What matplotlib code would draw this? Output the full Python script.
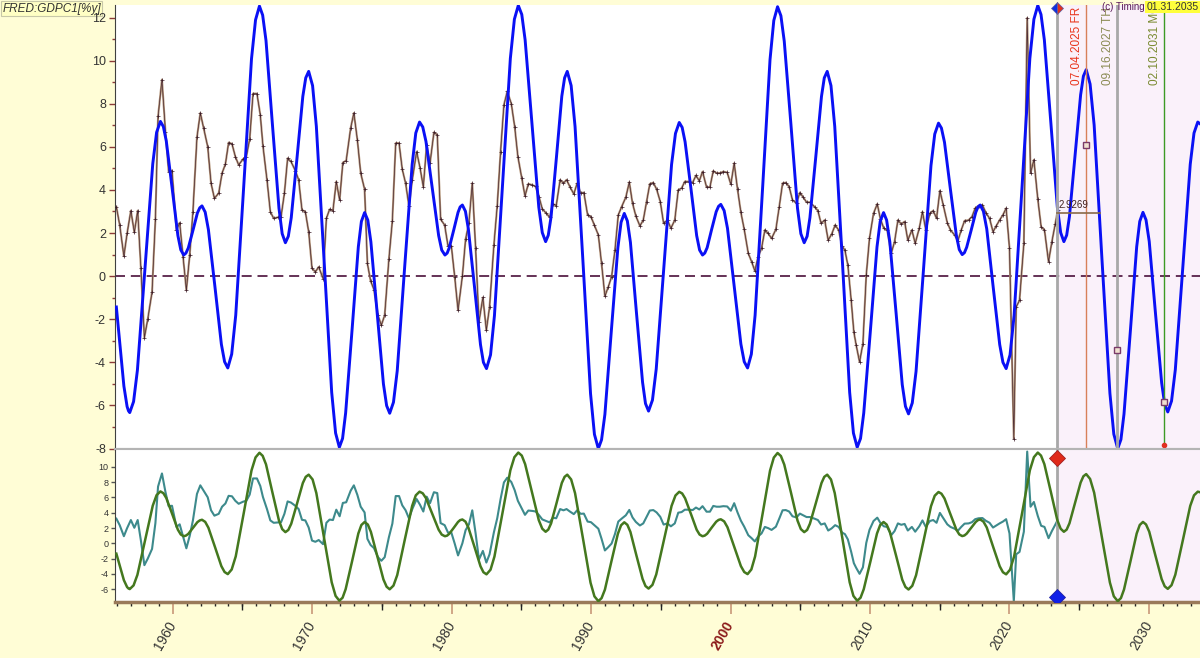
import matplotlib
matplotlib.use('Agg')
import matplotlib.pyplot as plt
from matplotlib.ticker import MultipleLocator, FixedLocator

plt.rcParams['font.family'] = ['Liberation Sans', 'DejaVu Sans']
plt.rcParams['axes.unicode_minus'] = False

# cycle projection (blue / green)
cyc_years = [1955.96, 1956.25, 1956.5, 1956.73, 1956.83,
             1956.92, 1957.195, 1957.47, 1958.02, 1958.57, 1958.845,
             1959.12, 1959.33, 1959.54, 1959.96, 1960.37, 1960.58,
             1960.79, 1960.95, 1961.12, 1961.45, 1961.77, 1961.94,
             1962.10, 1962.33, 1962.56, 1963.03, 1963.49, 1963.72,
             1963.95, 1964.23, 1964.52, 1965.09, 1965.65, 1965.94,
             1966.22, 1966.45, 1966.69, 1967.15, 1967.62, 1967.85,
             1968.08, 1968.29, 1968.50, 1968.92, 1969.33, 1969.54,
             1969.75, 1970.03, 1970.30, 1970.85, 1971.40, 1971.68,
             1971.95, 1972.18, 1972.40, 1972.86, 1973.31, 1973.53,
             1973.76, 1973.99, 1974.21, 1974.66, 1975.11, 1975.34,
             1975.56, 1975.83, 1976.10, 1976.63, 1977.17, 1977.43,
             1977.70, 1977.93, 1978.16, 1978.61, 1979.07, 1979.29,
             1979.52, 1979.68, 1979.83, 1980.15, 1980.46, 1980.61,
             1980.77, 1980.99, 1981.20, 1981.64, 1982.07, 1982.28,
             1982.50, 1982.79, 1983.07, 1983.64, 1984.21, 1984.50,
             1984.78, 1985.03, 1985.27, 1985.76, 1986.25, 1986.50,
             1986.74, 1986.93, 1987.13, 1987.52, 1987.90, 1988.10,
             1988.29, 1988.57, 1988.85, 1989.41, 1989.96, 1990.24,
             1990.52, 1990.75, 1990.99, 1991.45, 1991.92, 1992.15,
             1992.38, 1992.60, 1992.82, 1993.25, 1993.69, 1993.90,
             1994.12, 1994.40, 1994.67, 1995.22, 1995.77, 1996.05,
             1996.32, 1996.53, 1996.74, 1997.16, 1997.57, 1997.78,
             1997.99, 1998.15, 1998.32, 1998.64, 1998.97, 1999.14,
             1999.30, 1999.54, 1999.78, 2000.26, 2000.74, 2000.98,
             2001.22, 2001.49, 2001.76, 2002.30, 2002.83, 2003.10,
             2003.37, 2003.61, 2003.85, 2004.33, 2004.80, 2005.04,
             2005.28, 2005.49, 2005.69, 2006.11, 2006.52, 2006.72,
             2006.93, 2007.20, 2007.47, 2008.01, 2008.54, 2008.81,
             2009.08, 2009.32, 2009.55, 2010.03, 2010.50, 2010.73,
             2010.97, 2011.19, 2011.42, 2011.87, 2012.31, 2012.54,
             2012.76, 2013.03, 2013.30, 2013.84, 2014.37, 2014.64,
             2014.91, 2015.12, 2015.34, 2015.76, 2016.19, 2016.40,
             2016.61, 2016.77, 2016.93, 2017.26, 2017.58, 2017.74,
             2017.90, 2018.13, 2018.37, 2018.83, 2019.30, 2019.53,
             2019.76, 2020.04, 2020.33, 2020.90, 2021.46, 2021.75,
             2022.03, 2022.26, 2022.50, 2022.97, 2023.43, 2023.67,
             2023.90, 2024.10, 2024.30, 2024.70, 2025.10, 2025.30,
             2025.50, 2025.78, 2026.07, 2026.63, 2027.20, 2027.48,
             2027.76, 2027.99, 2028.21, 2028.67, 2029.12, 2029.34,
             2029.57, 2029.79, 2030.02, 2030.46, 2030.91, 2031.13,
             2031.35, 2031.62, 2031.89, 2032.43, 2032.96, 2033.23,
             2033.50, 2033.80]
cyc_vals = [-1.43, -3.4, -5.1, -6.05, -6.25,
            -6.33, -5.82, -4.36, 0.43, 5.21, 6.67,
            7.18, 6.94, 6.27, 4.08, 1.89, 1.22,
            0.98, 1.07, 1.31, 2.12, 2.93, 3.17,
            3.26, 2.97, 2.16, -0.5, -3.16, -3.97,
            -4.26, -3.62, -1.81, 4.14, 10.08, 11.89,
            12.53, 12.11, 10.93, 7.04, 3.15, 1.97,
            1.55, 1.85, 2.71, 5.53, 8.34, 9.2,
            9.5, 8.84, 6.95, 0.78, -5.39, -7.28,
            -7.94, -7.53, -6.35, -2.50, 1.36, 2.54,
            2.95, 2.60, 1.59, -1.71, -5.0, -6.01,
            -6.36, -5.85, -4.39, 0.40, 5.18, 6.64,
            7.15, 6.92, 6.25, 4.07, 1.88, 1.21,
            0.98, 1.07, 1.32, 2.14, 2.96, 3.21,
            3.30, 3.01, 2.19, -0.50, -3.18, -4.0,
            -4.29, -3.65, -1.83, 4.14, 10.10, 11.92,
            12.56, 12.14, 10.96, 7.08, 3.20, 2.02,
            1.60, 1.90, 2.75, 5.55, 8.35, 9.2,
            9.5, 8.84, 6.94, 0.75, -5.45, -7.34,
            -8.0, -7.59, -6.41, -2.55, 1.32, 2.50,
            2.91, 2.56, 1.57, -1.68, -4.92, -5.91,
            -6.26, -5.75, -4.31, 0.43, 5.18, 6.62,
            7.13, 6.90, 6.23, 4.06, 1.88, 1.21,
            0.98, 1.07, 1.32, 2.16, 2.99, 3.24,
            3.33, 3.04, 2.22, -0.47, -3.15, -3.97,
            -4.26, -3.62, -1.81, 4.12, 10.05, 11.86,
            12.5, 12.08, 10.90, 7.03, 3.15, 1.97,
            1.55, 1.85, 2.71, 5.53, 8.34, 9.2,
            9.5, 8.84, 6.95, 0.78, -5.39, -7.28,
            -7.94, -7.53, -6.35, -2.50, 1.36, 2.54,
            2.95, 2.60, 1.59, -1.72, -5.03, -6.04,
            -6.39, -5.88, -4.42, 0.36, 5.13, 6.59,
            7.1, 6.87, 6.21, 4.05, 1.89, 1.23,
            1.0, 1.09, 1.34, 2.15, 2.96, 3.21,
            3.3, 3.01, 2.19, -0.50, -3.18, -4.0,
            -4.29, -3.65, -1.83, 4.14, 10.10, 11.92,
            12.56, 12.14, 10.96, 7.08, 3.20, 2.02,
            1.6, 1.90, 2.77, 5.59, 8.41, 9.28,
            9.58, 8.91, 7.01, 0.79, -5.43, -7.33,
            -8.0, -7.58, -6.40, -2.52, 1.36, 2.54,
            2.96, 2.61, 1.61, -1.67, -4.95, -5.95,
            -6.3, -5.79, -4.34, 0.43, 5.19, 6.64,
            7.15, 7.0]

# FRED GDPC1, % change y/y (brown / teal)
gdp_years = [1955.96, 1956.2, 1956.5, 1956.73, 1957.0, 1957.25, 1957.49, 1957.72, 1957.97,
             1958.21, 1958.52, 1958.76, 1958.95, 1959.23, 1959.48, 1959.71, 1959.95,
             1960.27, 1960.5, 1960.74, 1960.98, 1961.22, 1961.45, 1961.74, 1961.98,
             1962.22, 1962.51, 1962.75, 1962.99, 1963.3, 1963.54, 1963.78, 1964.01,
             1964.25, 1964.49, 1964.73, 1965.04, 1965.28, 1965.52, 1965.76, 1966.04,
             1966.28, 1966.47, 1966.76, 1967.0, 1967.24, 1967.53, 1967.77, 1968.01,
             1968.24, 1968.48, 1968.79, 1969.03, 1969.27, 1969.51, 1969.75, 1969.99,
             1970.23, 1970.47, 1970.78, 1971.02, 1971.25, 1971.49, 1971.73, 1971.97,
             1972.2, 1972.44, 1972.76, 1972.99, 1973.24, 1973.48, 1973.76, 1973.96,
             1974.19, 1974.43, 1974.72, 1974.96, 1975.2, 1975.5, 1975.75, 1975.99,
             1976.23, 1976.46, 1976.7, 1976.94, 1977.18, 1977.49, 1977.73, 1977.97,
             1978.21, 1978.45, 1978.73, 1978.97, 1979.21, 1979.5, 1979.74, 1979.98,
             1980.22, 1980.46, 1980.77, 1981.0, 1981.24, 1981.48, 1981.72, 1981.96,
             1982.24, 1982.49, 1982.72, 1983.03, 1983.27, 1983.51, 1983.75, 1983.99,
             1984.28, 1984.52, 1984.75, 1985.02, 1985.26, 1985.5, 1985.78, 1986.02,
             1986.26, 1986.5, 1986.74, 1987.03, 1987.26, 1987.5, 1987.78, 1988.02,
             1988.24, 1988.48, 1988.76, 1989.0, 1989.25, 1989.48, 1989.75, 1989.99,
             1990.23, 1990.52, 1990.75, 1990.99, 1991.23, 1991.47, 1991.71, 1991.95,
             1992.19, 1992.49, 1992.74, 1992.97, 1993.21, 1993.5, 1993.74, 1993.98,
             1994.21, 1994.46, 1994.7, 1994.96, 1995.2, 1995.48, 1995.72, 1996.0,
             1996.25, 1996.49, 1996.72, 1997.04, 1997.28, 1997.52, 1997.76, 1997.99,
             1998.28, 1998.52, 1998.76, 1999.0, 1999.23, 1999.48, 1999.76, 2000.02,
             2000.26, 2000.5, 2000.74, 2000.98, 2001.27, 2001.51, 2001.74, 2001.98,
             2002.22, 2002.46, 2002.7, 2002.94, 2003.25, 2003.49, 2003.73, 2003.96,
             2004.2, 2004.44, 2004.73, 2004.97, 2005.21, 2005.45, 2005.69, 2006.02,
             2006.26, 2006.49, 2006.75, 2007.0, 2007.25, 2007.5, 2007.75, 2008.0,
             2008.2, 2008.41, 2008.65, 2008.84, 2009.01, 2009.25, 2009.49, 2009.73,
             2009.96, 2010.25, 2010.52, 2010.75, 2010.99, 2011.23, 2011.52, 2011.76,
             2012.0, 2012.24, 2012.48, 2012.71, 2013.0, 2013.24, 2013.53, 2013.76,
             2014.0, 2014.29, 2014.53, 2014.77, 2015.01, 2015.25, 2015.54, 2015.77,
             2016.06, 2016.3, 2016.54, 2016.78, 2017.07, 2017.31, 2017.54, 2017.78,
             2018.06, 2018.3, 2018.57, 2018.82, 2019.05, 2019.29, 2019.53, 2019.76,
             2020.0, 2020.31, 2020.48, 2020.72, 2021.03, 2021.27, 2021.51, 2021.75,
             2022.03, 2022.27, 2022.51, 2022.8, 2023.04, 2023.28, 2023.46]
gdp_vals = [3.22, 2.37, 0.93, 1.98, 3.04, 2.03, 3.04, 0.36, -2.85,
            -2.0, -0.73, 2.64, 7.41, 9.12, 6.71, 4.85, 4.90,
            2.14, 2.48, 0.9, -0.65, 0.98, 2.99, 6.45, 7.57,
            6.87, 6.01, 4.31, 3.61, 3.85, 4.78, 5.2, 6.2,
            6.14, 5.55, 5.16, 5.43, 5.55, 6.36, 8.47, 8.47,
            7.49, 6.05, 4.47, 2.99, 2.68, 2.73, 2.76, 3.85,
            5.47, 5.32, 4.9, 4.47, 3.07, 2.99, 2.06, 0.36,
            0.2, 0.43, -0.11, 2.68, 3.1, 3.04, 4.39, 3.53,
            5.27, 5.36, 6.87, 7.57, 6.33, 4.78, 4.03, 0.59,
            -0.22, -0.62, -1.81, -2.28, -1.81, 0.78, 2.57, 6.17,
            6.17, 4.96, 4.31, 3.26, 4.47, 5.78, 5.04, 4.15,
            6.09, 5.24, 6.67, 6.56, 2.64, 2.37, 1.4, 1.4,
            -0.03, -1.58, 0.0, 1.71, 2.48, 4.31, 1.29, -2.12,
            -0.99, -2.51, -1.43, 1.44, 3.27, 5.78, 7.95, 8.57,
            8.0, 6.94, 5.55, 4.57, 3.72, 4.28, 4.23, 4.16,
            3.69, 3.12, 2.95, 2.73, 3.35, 3.27, 4.47, 4.31,
            4.47, 4.15, 3.81, 4.31, 3.85, 3.88, 2.84, 2.76,
            2.37, 1.91, 0.59, -0.93, -0.5, -0.03, 1.21, 2.84,
            3.22, 3.66, 4.36, 3.38, 2.79, 2.33, 2.6, 3.46,
            4.28, 4.34, 4.03, 3.46, 2.45, 2.6, 2.22, 2.6,
            4.0, 4.08, 4.39, 4.39, 4.34, 4.67, 4.42, 4.85,
            4.13, 4.13, 4.88, 4.78, 4.78, 4.85, 4.81, 4.26,
            5.24, 4.03, 2.96, 2.17, 1.06, 0.67, 0.25, 0.9,
            1.29, 2.14, 1.98, 1.75, 2.17, 3.22, 4.31, 4.34,
            4.15, 3.53, 3.38, 3.88, 3.66, 3.43, 3.43, 3.22,
            3.04, 2.45, 2.6, 1.67, 1.95, 2.37, 2.14, 1.4,
            1.2, 0.51, -1.12, -2.59, -3.21, -3.98, -3.13, 0.05,
            1.75, 2.91, 3.35, 2.64, 2.22, 2.14, 1.06, 1.6,
            2.6, 2.42, 2.53, 1.67, 2.14, 1.52, 2.22, 2.99,
            2.14, 2.91, 3.04, 2.68, 3.97, 3.3, 2.48, 2.14,
            1.91, 1.64, 2.14, 2.57, 2.6, 2.76, 3.15, 3.27,
            3.3, 2.95, 2.68, 2.06, 2.33, 2.6, 2.84, 3.15,
            1.29, -7.55, -1.43, -1.12, 1.52, 11.98, 4.78, 5.4,
            3.57, 2.29, 2.14, 0.67, 1.6, 2.42, 3.07]

now_date = 2023.44
now_value = 2.9269
event_dates = [2025.51, 2027.71, 2031.11]
event_labels = ['07.04.2025 FR', '09.16.2027 TH', '02.10.2031 MO']
event_values = [6.1, -3.43, -5.83]

decades = [1960, 1970, 1980, 1990, 2000, 2010, 2020, 2030]
half_decades = [1955, 1965, 1975, 1985, 1995, 2005, 2015, 2025]

BG = '#fffdd6'
PINK = '#faf1fa'

fig = plt.figure(figsize=(12, 6.58), dpi=100, facecolor=BG)
ax = fig.add_axes([0.0958, 0.3176, 0.9042, 0.6748])
ax2 = fig.add_axes([0.0958, 0.0851, 0.9042, 0.2325], sharex=ax)

# ---- top panel
ax.axvspan(now_date, 2040, color=PINK, zorder=0, lw=0)
ax.axhline(0, color='#4a0f3a', lw=1.2, dashes=(6, 3.5), zorder=1)
ax.plot(gdp_years, gdp_vals, color='#b39478', lw=1.5, zorder=2)
ax.plot(gdp_years, gdp_vals, color='#4a2a34', lw=0.5, marker='+', ms=3,
        mew=0.5, mec='#3a1a26', zorder=3)
ax.plot(cyc_years, cyc_vals, color='#0a10f5', lw=2.1, zorder=4,
        solid_joinstyle='round')

ax.axvline(now_date, color='#a8a8a8', lw=2, zorder=5)
ev_colors = ['#d8805a', '#a8a8a8', '#3c9a24']
ev_widths = [1, 2, 1]
txt_colors = ['#e8341c', '#8a8a52', '#7a8a30']
for d, lab, c, w, tc in zip(event_dates, event_labels, ev_colors, ev_widths, txt_colors):
    ax.axvline(d, color=c, lw=w, zorder=5)
    ax.text(d - 0.25, 0.82, lab, rotation=90, ha='right', va='bottom',
            color=tc, fontsize=8.5, transform=ax.get_xaxis_transform(), zorder=6)
ax.plot(event_dates, event_values, ls='none', marker='s', ms=4, mfc='#f0e0d0',
        mec='#7a3a6a', mew=1, zorder=7)
ax.plot([event_dates[2]], [-7.85], ls='none', marker='o', ms=3, color='#e03020', zorder=7)

ax.plot([now_date, 2026.5], [now_value, now_value], color='#8a6a48', lw=1.2, zorder=6)
ax.text(now_date + 0.08, now_value + 0.15, '%.4f' % now_value, fontsize=7,
        color='#402020', va='bottom', zorder=7)
ax.plot([now_date], [12.42], ls='none', marker='D', ms=6, color='#1030e0',
        fillstyle='left', markerfacecoloralt='#e03020', mec='#6060a0', mew=0.5,
        zorder=8, clip_on=False)

ax.set_xlim(1955.86, 2033.66)
ax.set_ylim(-8.02, 12.58)
ax.set_facecolor('white')
ax.yaxis.set_major_locator(MultipleLocator(2))
ax.yaxis.set_minor_locator(MultipleLocator(1))
ax.tick_params(axis='y', which='major', length=4.5, width=1, color='#8b3a3a',
               labelsize=9, labelcolor='#333333', pad=2)
ax.tick_params(axis='y', which='minor', length=2.5, width=1, color='#8b3a3a')
ax.tick_params(axis='x', which='both', bottom=False, labelbottom=False)
for s in ['top', 'right']:
    ax.spines[s].set_visible(False)
ax.spines['left'].set_color('#404040')
ax.spines['bottom'].set_color('#b4b4b4')
ax.spines['bottom'].set_linewidth(1.5)

# ---- bottom panel
ax2.axvspan(now_date, 2040, color=PINK, zorder=0, lw=0)
ax2.plot(gdp_years, gdp_vals, color='#3d8a8c', lw=1.5, zorder=2)
ax2.axvline(now_date, color='#a8a8a8', lw=2, zorder=3)
ax2.plot([now_date], [11.1], ls='none', marker='D', ms=8, mfc='#e02a1a',
         mec='#a02020', mew=0.6, zorder=6)
ax2.plot([now_date], [-7.0], ls='none', marker='D', ms=8, mfc='#1020e8',
         mec='#2020a0', mew=0.6, zorder=6)
ax2.set_ylim(-7.66, 12.31)
ax2.set_facecolor('white')
ax2.yaxis.set_major_locator(FixedLocator([-6, -4, -2, 0, 2, 4, 6, 8, 10]))
ax2.tick_params(axis='y', length=3, width=1, color='#555555', labelsize=6.5,
                labelcolor='#333333', pad=1.5)
ax2.set_xticks(decades)
ax2.set_xticklabels([str(d) for d in decades])
ax2.xaxis.set_minor_locator(MultipleLocator(1))
ax2.tick_params(axis='x', which='major', length=8.5, width=1.2, color='#c89878',
                labelsize=10, labelcolor='#333333', pad=6, labelrotation=60)
ax2.tick_params(axis='x', which='minor', length=3, width=1, color='#222222')
for lab in ax2.get_xticklabels():
    lab.set_ha('right')
    lab.set_va('center')
    lab.set_rotation_mode('anchor')
    if lab.get_text() == '2000':
        lab.set_color('#8b1a1a')
        lab.set_fontweight('bold')
sec = ax2.secondary_xaxis('bottom')
sec.set_xticks(half_decades)
sec.tick_params(axis='x', length=5.5, width=1, color='#222222', labelbottom=False)
sec.spines['bottom'].set_visible(False)
ax2.spines['right'].set_visible(False)
ax2.spines['top'].set_color('#b4b4b4')
ax2.spines['top'].set_linewidth(1.5)
ax2.spines['left'].set_color('#404040')
ax2.spines['bottom'].set_color('#9a7a5a')
ax2.spines['bottom'].set_linewidth(2.5)

# green cycle on its own scale, fitted to the lower pane
ax2g = ax2.twinx()
ax2g.plot(cyc_years, cyc_vals, color='#44781e', lw=1.8, zorder=4,
          solid_joinstyle='round')
ax2g.set_ylim(-8.12, 13.05)
ax2g.axis('off')

# ---- header texts (title box sits under the axes so the "12" label shows)
fig.text(0.002, 0.996, 'FRED:GDPC1[%y]', style='italic', fontsize=8.5,
         color='#333333', ha='left', va='top', zorder=-1,
         bbox=dict(boxstyle='square,pad=0.1', fc='#ffffc4', ec='#c8c8a8', lw=0.8))
fig.text(0.954, 0.997, '(c) Timing', fontsize=7, color='#5a1a5a', ha='right', va='top')
fig.text(0.999, 0.997, '01.31.2035', fontsize=7.5, color='#333333', ha='right', va='top',
         bbox=dict(boxstyle='square,pad=0.12', fc='#ffff3c', ec='none'))

fig.savefig('out.png', dpi=100, facecolor=BG)
